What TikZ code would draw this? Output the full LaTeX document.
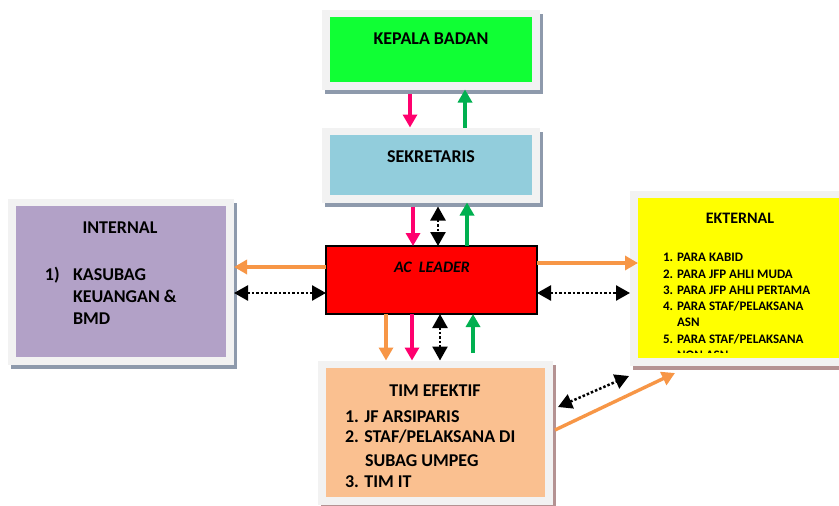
\documentclass[tikz,border=0pt]{standalone}
\usepackage{fontspec}
\setmainfont{Carlito}
\usetikzlibrary{arrows.meta}
\definecolor{kepgreen}{RGB}{16,255,52}
\definecolor{sekblue}{RGB}{146,205,220}
\definecolor{intpurple}{RGB}{178,161,199}
\definecolor{timpeach}{RGB}{250,192,144}
\definecolor{ektyellow}{RGB}{255,255,0}
\definecolor{framegray}{RGB}{242,242,242}
\definecolor{shadowblue}{RGB}{142,154,172}
\definecolor{shadowrose}{RGB}{180,146,146}
\definecolor{arrpink}{RGB}{255,0,110}
\definecolor{arrgreen}{RGB}{0,176,80}
\definecolor{arrorange}{RGB}{247,150,70}
\tikzset{
  box/.style={draw=none, inner sep=0pt, outer sep=0pt, rectangle},
  bigtxt/.style={font=\fontsize{18}{22}\selectfont\bfseries, inner sep=0pt, outer sep=0pt},
  midtxt/.style={font=\fontsize{16}{19}\selectfont\bfseries, inner sep=0pt, outer sep=0pt},
  smalltxt/.style={font=\fontsize{13}{15}\selectfont\bfseries, inner sep=0pt, outer sep=0pt},
  colarrow/.style={line width=3.4pt, -{Triangle[length=13pt,width=14pt]}},
  pinkarr/.style={colarrow, draw=arrpink, color=arrpink},
  greenarr/.style={colarrow, draw=arrgreen, color=arrgreen},
  orangearr/.style={colarrow, draw=arrorange, color=arrorange},
  dotarrow/.style={line width=2.5pt, dash pattern=on 2.5pt off 2pt,
    {Triangle[length=14pt,width=15pt]}-{Triangle[length=14pt,width=15pt]}},
}
% framed box: name, inner x1,y1,x2,y2, fill, shadow colour
\newcommand{\myframedbox}[7]{%
  \node[box, fill=#7, minimum width={#4-#2+16pt}, minimum height={#5-#3+15pt}]
    (#1S) at ({(#2+#4)/2+3}, {(#3+#5)/2+4}) {};
  \node[box, fill=framegray, minimum width={#4-#2+16pt}, minimum height={#5-#3+15pt}]
    (#1F) at ({(#2+#4)/2}, {(#3+#5)/2}) {};
  \node[box, fill=#6, minimum width={#4-#2}, minimum height={#5-#3}]
    (#1) at ({(#2+#4)/2}, {(#3+#5)/2}) {};
}
\begin{document}
\begin{tikzpicture}[x=1pt,y=-1pt]
\clip (0,0) rectangle (839,506);
\fill[white] (0,0) rectangle (839,506);

\myframedbox{kep}{330}{17}{532}{82}{kepgreen}{shadowblue}
\myframedbox{sek}{330}{135}{532}{195}{sekblue}{shadowblue}
\myframedbox{int}{16}{206}{226}{357}{intpurple}{shadowblue}
\myframedbox{tim}{326}{368}{545}{497}{timpeach}{shadowrose}
\myframedbox{ekt}{638}{198}{845}{358}{ektyellow}{shadowrose}
\node[box, draw=black, line width=1.6pt, fill=red, minimum width=211pt, minimum height=68pt]
  (ac) at (431.5,280) {};

% texts
\node[bigtxt, anchor=base] (kepT) at (431,44.7) {KEPALA BADAN};
\node[bigtxt, anchor=base] (sekT) at (431,162.7) {SEKRETARIS};
\node[midtxt, anchor=base, font=\fontsize{16}{19}\selectfont\bfseries\itshape] (acT) at (432,272) {AC\ \ LEADER};

\node[bigtxt, anchor=base] (intT) at (120,233.7) {INTERNAL};
\node[bigtxt, anchor=base west] (intN) at (45,280.7) {1)};
\node[bigtxt, anchor=base west] (intA) at (73,280.7) {KASUBAG};
\node[bigtxt, anchor=base west] (intB) at (73,302.7) {KEUANGAN \&};
\node[bigtxt, anchor=base west] (intC) at (73,324.7) {BMD};

\node[bigtxt, anchor=base] (timT) at (435,396) {TIM EFEKTIF};
\node[bigtxt, anchor=base west] (timA) at (345,422) {1. JF ARSIPARIS};
\node[bigtxt, anchor=base west] (timB) at (345,442.5) {2. STAF/PELAKSANA DI};
\node[bigtxt, anchor=base west] (timC) at (365,466) {SUBAG UMPEG};
\node[bigtxt, anchor=base west] (timD) at (345,487.5) {3. TIM IT};

\node[midtxt, anchor=base] (ektT) at (740,223) {EKTERNAL};
\node[smalltxt, anchor=base west] (ekn1) at (663,261.8) {1.};
\node[smalltxt, anchor=base west] (ekt1) at (677,261.8) {PARA KABID};
\node[smalltxt, anchor=base west] (ekn2) at (663,278.5) {2.};
\node[smalltxt, anchor=base west] (ekt2) at (677,278.5) {PARA JFP AHLI MUDA};
\node[smalltxt, anchor=base west] (ekn3) at (663,294.6) {3.};
\node[smalltxt, anchor=base west] (ekt3) at (677,294.6) {PARA JFP AHLI PERTAMA};
\node[smalltxt, anchor=base west] (ekn4) at (663,310.6) {4.};
\node[smalltxt, anchor=base west] (ekt4) at (677,310.6) {PARA STAF/PELAKSANA};
\node[smalltxt, anchor=base west] (ekt4b) at (677,326.6) {ASN};
\node[smalltxt, anchor=base west] (ekn5) at (663,343.2) {5.};
\node[smalltxt, anchor=base west] (ekt5) at (677,343.2) {PARA STAF/PELAKSANA};
\begin{scope}
  \clip (638,198) rectangle (845,352.5);
  \node[smalltxt, anchor=base west] (ekt5b) at (677,359.7) {NON ASN};
\end{scope}

% column / row helper coordinates
\coordinate (p1) at (410,0);
\coordinate (g1) at (465,0);
\coordinate (p2) at (413,0);
\coordinate (b2) at (438,0);
\coordinate (g2) at (467,0);
\coordinate (o3) at (386,0);
\coordinate (p3) at (412,0);
\coordinate (b3) at (440,0);
\coordinate (g3) at (473,0);
\coordinate (gstart) at (473,353);
\coordinate (yo) at (0,267);
\coordinate (yb) at (0,293);
\coordinate (yo2) at (0,263);
\coordinate (dA) at (558,407);
\coordinate (dB) at (629,376);
\coordinate (oA) at (555,430);
\coordinate (oB) at (675,373);

% kepala <-> sekretaris
\draw[pinkarr] (kepS.south -| p1) -- (sekF.north -| p1);
\draw[greenarr] (sekF.north -| g1) -- (kepF.south -| g1);
% sekretaris <-> ac
\draw[pinkarr] (sekS.south -| p2) -- (ac.north -| p2);
\draw[dotarrow] (sekS.south -| b2) -- (ac.north -| b2);
\draw[greenarr] (ac.north -| g2) -- (sekF.south -| g2);
% ac <-> internal
\draw[orangearr] (ac.west |- yo) -- (intF.east |- yo);
\draw[dotarrow] (intF.east |- yb) -- (ac.west |- yb);
% ac <-> ekternal
\draw[orangearr] (ac.east |- yo2) -- (ekt.west |- yo2);
\draw[dotarrow] (ac.east |- yb) -- (ektF.west |- yb);
% ac <-> tim
\draw[orangearr] (ac.south -| o3) -- (timF.north -| o3);
\draw[pinkarr] (ac.south -| p3) -- (timF.north -| p3);
\draw[dotarrow] (ac.south -| b3) -- (timF.north -| b3);
\draw[greenarr] (gstart) -- (ac.south -| g3);
% tim <-> ekternal
\draw[dotarrow] (dA) -- (dB);
\draw[orangearr] (oA) -- (oB);
\end{tikzpicture}
\end{document}
